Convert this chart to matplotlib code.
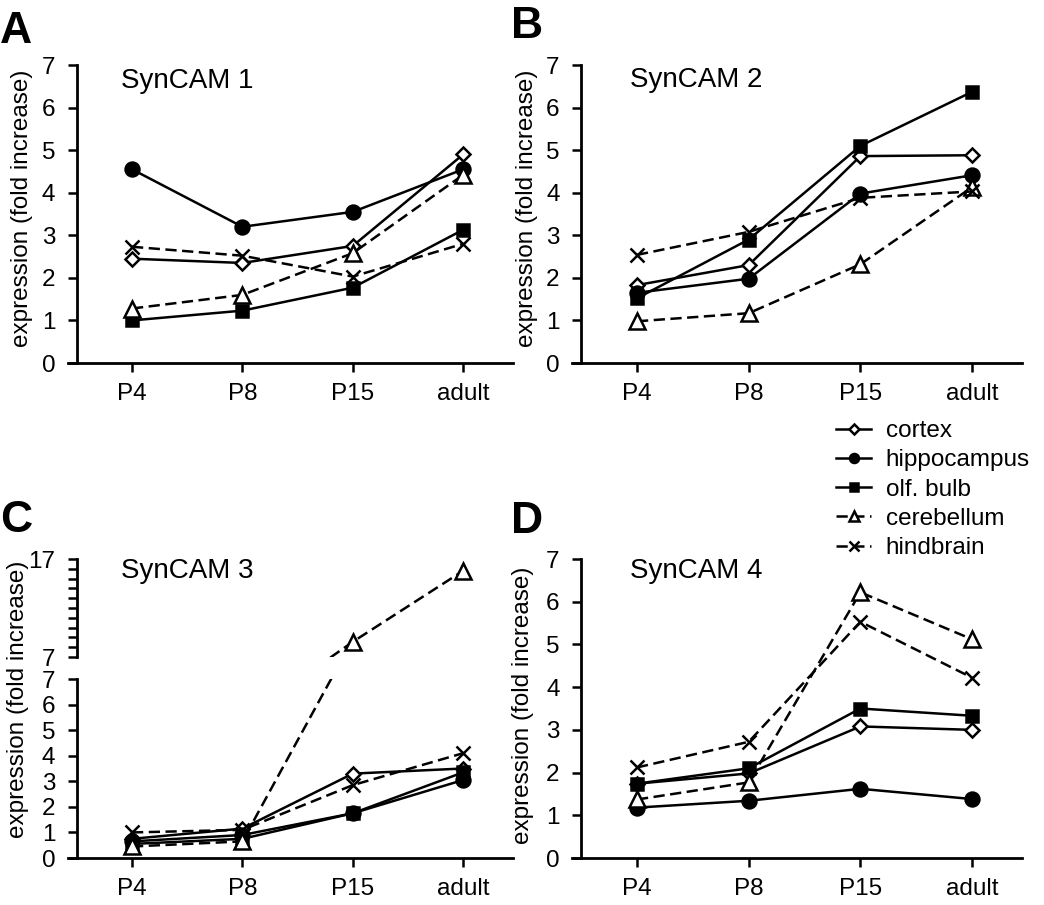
import numpy as np
import matplotlib.pyplot as plt
from matplotlib.ticker import FixedLocator

plt.rcParams['font.family'] = ['Liberation Sans', 'DejaVu Sans']

W, H = 1044, 905

stages = ['P4', 'P8', 'P15', 'adult']
regions = ['cortex', 'hippocampus', 'olf. bulb', 'cerebellum', 'hindbrain']

# SynCAM 1
s1_cortex = [2.45, 2.35, 2.75, 4.9]
s1_hippocampus = [4.55, 3.2, 3.55, 4.55]
s1_olfbulb = [1.0, 1.23, 1.77, 3.13]
s1_cerebellum = [1.28, 1.6, 2.58, 4.42]
s1_hindbrain = [2.73, 2.52, 2.03, 2.8]

# SynCAM 2
s2_cortex = [1.83, 2.3, 4.86, 4.88]
s2_hippocampus = [1.65, 1.98, 3.98, 4.41]
s2_olfbulb = [1.52, 2.9, 5.1, 6.37]
s2_cerebellum = [0.98, 1.17, 2.32, 4.13]
s2_hindbrain = [2.54, 3.08, 3.88, 4.03]

# SynCAM 3
s3_cortex = [0.75, 1.15, 3.3, 3.5]
s3_hippocampus = [0.65, 0.9, 1.75, 3.05]
s3_olfbulb = [0.55, 0.75, 1.75, 3.35]
s3_cerebellum = [0.45, 0.65, 8.55, 15.8]
s3_hindbrain = [1.0, 1.1, 2.85, 4.1]

# SynCAM 4
s4_cortex = [1.74, 1.98, 3.08, 3.0]
s4_hippocampus = [1.18, 1.34, 1.62, 1.38]
s4_olfbulb = [1.74, 2.1, 3.5, 3.33]
s4_cerebellum = [1.37, 1.77, 6.22, 5.12]
s4_hindbrain = [2.12, 2.72, 5.53, 4.22]

styles = {
    'cortex': dict(marker='D', ms=7.6, mfc='white', ls='-'),
    'hippocampus': dict(marker='o', ms=10, mfc='black', ls='-'),
    'olf. bulb': dict(marker='s', ms=8, mfc='black', ls='-'),
    'cerebellum': dict(marker='^', ms=11.5, mfc='white', ls='--'),
    'hindbrain': dict(marker='x', ms=10, mfc='black', ls='--'),
}

FS = 17.5


def ax_rect(p0, step, y0_px, ytop_px):
    """axes rectangle in figure fractions from pixel positions"""
    left = p0 - 0.58 * step
    width = 4.03 * step
    return [left / W, (H - y0_px) / H, width / W, (y0_px - ytop_px) / H]


def style_axis(ax, ymin, ymax, xaxis=True):
    ax.spines['top'].set_visible(False)
    ax.spines['right'].set_visible(False)
    ax.spines['left'].set_position(('data', -0.5))
    ax.spines['left'].set_bounds(ymin, ymax)
    for s in ax.spines.values():
        s.set_linewidth(2.0)
    ax.set_xlim(-0.58, 3.45)
    ax.set_ylim(ymin, ymax)
    ax.patch.set_alpha(0)
    ax.tick_params(axis='y', direction='out', length=6.5, width=1.8, pad=9, labelsize=FS)
    if xaxis:
        ax.set_xticks(range(4))
        ax.set_xticklabels(stages)
        ax.tick_params(axis='x', direction='out', length=6.5, width=1.8, pad=8, labelsize=FS)
    else:
        ax.spines['bottom'].set_visible(False)
        ax.set_xticks([])


def draw(ax, series):
    lines = []
    for name, vals in zip(regions, series):
        st = styles[name]
        kw = dict(color='black', lw=1.8, marker=st['marker'], ms=st['ms'],
                  mfc=st['mfc'], mec='black', mew=1.8)
        if st['ls'] == '--':
            kw['dashes'] = (4.5, 2.2)
        line, = ax.plot(range(4), vals, label=name, **kw)
        lines.append(line)
    return lines


fig = plt.figure(figsize=(W / 100, H / 100), dpi=100)

# A
axA = fig.add_axes(ax_rect(132, 110.4, 363, 65))
style_axis(axA, 0, 7)
axA.set_yticks(range(8))
draw(axA, [s1_cortex, s1_hippocampus, s1_olfbulb, s1_cerebellum, s1_hindbrain])

# B
axB = fig.add_axes(ax_rect(637, 111.7, 363, 65))
style_axis(axB, 0, 7)
axB.set_yticks(range(8))
draw(axB, [s2_cortex, s2_hippocampus, s2_olfbulb, s2_cerebellum, s2_hindbrain])

# C (broken axis)
s3 = [s3_cortex, s3_hippocampus, s3_olfbulb, s3_cerebellum, s3_hindbrain]
axC = fig.add_axes(ax_rect(132, 110.4, 858, 679))
style_axis(axC, 0, 7)
axC.set_yticks(range(8))
draw(axC, s3)

axC2 = fig.add_axes(ax_rect(132, 110.4, 657, 559))
style_axis(axC2, 7, 17, xaxis=False)
axC2.set_yticks([7, 17])
axC2.yaxis.set_minor_locator(FixedLocator(range(8, 17)))
axC2.tick_params(axis='y', which='minor', direction='out', length=6.5, width=1.8)
draw(axC2, s3)

# D
axD = fig.add_axes(ax_rect(637, 111.7, 858, 559))
style_axis(axD, 0, 7)
axD.set_yticks(range(8))
handles = draw(axD, [s4_cortex, s4_hippocampus, s4_olfbulb, s4_cerebellum, s4_hindbrain])

# panel letters
for letter, x, y in [('A', 0, 43), ('B', 511, 38), ('C', 0, 532), ('D', 511, 533)]:
    fig.text(x / W, (H - y) / H, letter, fontsize=32, fontweight='bold', va='baseline')

# titles
for title, x, y in [('SynCAM 1', 121, 88), ('SynCAM 2', 630, 87),
                    ('SynCAM 3', 121, 578), ('SynCAM 4', 630, 578)]:
    fig.text(x / W, (H - y) / H, title, fontsize=20, va='baseline')

# y labels
for x, y in [(22, 208), (527, 208), (18, 699), (523, 705)]:
    fig.text(x / W, (H - y) / H, 'expression (fold increase)', fontsize=FS,
             rotation=90, ha='center', va='center')

fig.legend(handles, regions, loc='upper left', bbox_to_anchor=(836 / W, (H - 420) / H),
           frameon=False, borderpad=0, borderaxespad=0, handlelength=1.45,
           handletextpad=0.6, labelspacing=0.3, fontsize=FS, markerscale=0.65)

fig.savefig('out.png', dpi=100)
